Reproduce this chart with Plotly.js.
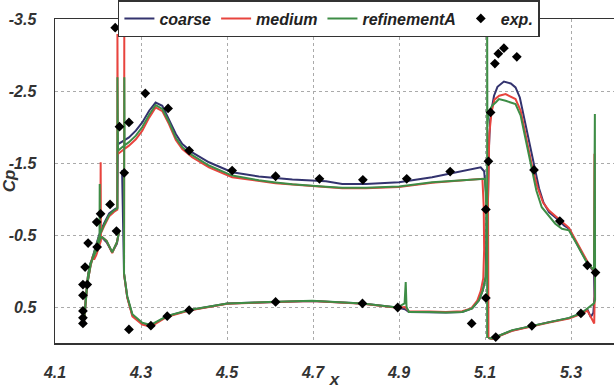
<!DOCTYPE html>
<html>
<head>
<meta charset="utf-8">
<script src="https://cdn.plot.ly/plotly-3.0.1.min.js"></script>
<style>html,body{margin:0;padding:0;background:#fff;}#chart{width:614px;height:389px;}</style>
</head>
<body>
<div id="chart"></div>
<script>
// ---- data (x position, pressure coefficient Cp) ----
const coarseX = [
  4.249, 4.244, 4.233, 4.220, 4.210, 4.203, 4.196, 4.190, 4.186, 4.182, 4.177, 4.172, 4.168, 4.167, 4.168, 4.171, 4.175, 4.183, 4.195, 4.202, 4.214, 4.226, 4.237, 4.245,
  4.246, 4.256, 4.272, 4.288, 4.303, 4.319, 4.334, 4.3495, 4.365, 4.381, 4.396, 4.419, 4.458, 4.512, 4.574, 4.652, 4.730, 4.768, 4.823, 4.900, 4.977, 5.055, 5.090, 5.098,
  5.104, 5.1035, 5.103, 5.1016, 5.095, 5.086, 5.070, 5.047, 5.009, 4.970, 4.923, 4.914, 4.896, 4.815, 4.698, 4.613, 4.5007, 4.4116, 4.361, 4.3226, 4.303, 4.280, 4.268, 4.2605, 4.258, 4.256,
  null,
  5.107, 5.107, 5.109, 5.112, 5.117, 5.121, 5.129, 5.144, 5.160, 5.171, 5.181, 5.191, 5.2023, 5.214, 5.2256, 5.236, 5.2488, 5.272, 5.2837, 5.2953, 5.307, 5.3263, 5.3419, 5.3535, 5.3545, 5.352, 5.346, 5.338, 5.323, 5.2953, 5.249, 5.210, 5.1636, 5.1256, 5.117, 5.108
];
const coarseCp = [
  -0.55, -0.38, -0.26, -0.40, -0.46, -0.44, -0.30, -0.20, -0.16, -0.10, 0.05, 0.35, 0.60, 0.75, 0.62, 0.41, 0.18, -0.10, -0.33, -0.49, -0.66, -0.80, -0.85, -0.88,
  -1.76, -1.80, -1.856, -1.949, -2.064, -2.226, -2.34, -2.295, -2.11, -1.903, -1.764, -1.648, -1.51, -1.371, -1.312, -1.27, -1.247, -1.21, -1.21, -1.233, -1.302, -1.395, -1.44, -1.385,
  -0.98, -0.56, -0.19, 0.083, 0.267, 0.406, 0.521, 0.568, 0.576, 0.568, 0.568, 0.53, 0.507, 0.452, 0.415, 0.429, 0.452, 0.544, 0.627, 0.759, 0.729, 0.614, 0.36, 0.036, -0.6, -1.4,
  null,
  0.93, -1.0, -1.7, -2.1, -2.30, -2.434, -2.558, -2.632, -2.604, -2.549, -2.41, -2.133, -1.81, -1.487, -1.15, -0.95, -0.817, -0.702, -0.633, -0.587, -0.449, -0.241, -0.079, 0.014, 0.35, 0.58, 0.64, 0.53, 0.59, 0.655, 0.71, 0.765, 0.825, 0.916, 0.94, 0.93
];

const mediumX = [
  4.249, 4.244, 4.233, 4.220, 4.210, 4.2055, 4.2062, 4.2068, 4.196, 4.191, 4.1875, 4.185, 4.182, 4.177, 4.172, 4.168, 4.167, 4.168, 4.171, 4.175, 4.183, 4.195, 4.202, 4.214, 4.226, 4.237, 4.2449,
  4.2452, 4.2462, 4.256, 4.272, 4.288, 4.303, 4.319, 4.334, 4.3495, 4.365, 4.381, 4.396, 4.419, 4.458, 4.512, 4.574, 4.613, 4.652, 4.730, 4.768, 4.823, 4.900, 4.977, 5.055, 5.094,
  5.097, 5.098, 5.096, 5.090, 5.082, 5.068, 5.047, 5.009, 4.970, 4.923, 4.914, 4.896, 4.815, 4.698, 4.613, 4.5007, 4.4116, 4.361, 4.3226, 4.303, 4.280, 4.268, 4.2605, 4.2612,
  null,
  5.108, 5.107, 5.110, 5.115, 5.122, 5.133, 5.148, 5.171, 5.183, 5.1985, 5.210, 5.222, 5.235, 5.249, 5.272, 5.2953, 5.307, 5.3263, 5.3419, 5.3535, 5.3545, 5.3555, 5.354, 5.348, 5.338, 5.323, 5.2953, 5.249, 5.210, 5.1636, 5.1256, 5.117, 5.108
];
const mediumCp = [
  -0.55, -0.40, -0.25, -0.42, -0.47, -0.45, -1.51, -0.42, -0.22, -0.16, -0.20, -0.13, -0.08, 0.05, 0.35, 0.60, 0.75, 0.62, 0.41, 0.18, -0.08, -0.30, -0.46, -0.62, -0.76, -0.82, -0.85,
  -3.29, -1.626, -1.67, -1.741, -1.83, -1.949, -2.13, -2.272, -2.22, -2.04, -1.82, -1.695, -1.58, -1.44, -1.302, -1.25, -1.219, -1.20, -1.164, -1.15, -1.15, -1.165, -1.225, -1.26, -1.28,
  -0.9, -0.3, 0.1, 0.28, 0.41, 0.52, 0.56, 0.568, 0.562, 0.56, 0.50, 0.51, 0.455, 0.418, 0.432, 0.455, 0.548, 0.635, 0.775, 0.745, 0.63, 0.37, 0.04, -3.6,
  null,
  0.93, -1.0, -1.9, -2.2, -2.38, -2.434, -2.457, -2.388, -2.226, -1.764, -1.44, -1.163, -0.95, -0.84, -0.72, -0.60, -0.47, -0.26, -0.09, 0.0, -1.63, 0.2, 0.73, 0.66, 0.55, 0.60, 0.66, 0.715, 0.77, 0.83, 0.92, 0.945, 0.93
];

const refX = [
  4.249, 4.244, 4.233, 4.220, 4.210, 4.2035, 4.204, 4.2045, 4.196, 4.190, 4.186, 4.182, 4.177, 4.172, 4.168, 4.167, 4.168, 4.171, 4.175, 4.183, 4.195, 4.202, 4.214, 4.226, 4.237, 4.245,
  4.2452, 4.2465, 4.256, 4.272, 4.288, 4.303, 4.319, 4.334, 4.3495, 4.365, 4.381, 4.396, 4.419, 4.458, 4.512, 4.574, 4.613, 4.652, 4.730, 4.768, 4.823, 4.900, 4.977, 5.055, 5.094, 5.100,
  5.103, 5.1035, 5.103, 5.1016, 5.095, 5.086, 5.070, 5.047, 5.009, 4.970, 4.923, 4.9175, 4.9156, 4.913, 4.896, 4.815, 4.698, 4.613, 4.5007, 4.4116, 4.361, 4.3226, 4.303, 4.280, 4.268, 4.2605, 4.2612, 4.262,
  null,
  5.105, 5.105, 5.1055, 5.108, 5.117, 5.1248, 5.1325, 5.148, 5.171, 5.183, 5.1965, 5.210, 5.2194, 5.232, 5.2634, 5.279, 5.2953, 5.3108, 5.334, 5.3535, 5.3555, 5.356, 5.3535, 5.338, 5.323, 5.2953, 5.249, 5.210, 5.1636, 5.1256, 5.117, 5.108
];
const refCp = [
  -0.55, -0.40, -0.26, -0.42, -0.47, -0.45, -1.21, -0.44, -0.28, -0.19, -0.15, -0.10, 0.05, 0.35, 0.60, 0.75, 0.62, 0.41, 0.18, -0.09, -0.31, -0.47, -0.64, -0.78, -0.84, -0.87,
  -2.69, -1.67, -1.72, -1.79, -1.88, -2.00, -2.17, -2.305, -2.25, -2.07, -1.85, -1.72, -1.61, -1.465, -1.325, -1.26, -1.23, -1.205, -1.17, -1.155, -1.155, -1.173, -1.233, -1.266, -1.28, -1.28,
  -0.9, -0.56, -0.19, 0.083, 0.267, 0.406, 0.521, 0.568, 0.576, 0.568, 0.568, 0.50, 0.152, 0.45, 0.507, 0.45, 0.413, 0.427, 0.45, 0.542, 0.625, 0.75, 0.72, 0.60, 0.35, 0.03, -2.69, -1.72,
  null,
  0.93, -3.6, -2.0, -2.2, -2.30, -2.341, -2.388, -2.364, -2.318, -2.157, -1.764, -1.395, -1.118, -0.886, -0.657, -0.587, -0.564, -0.402, -0.148, -0.01, -2.18, 0.40, 0.45, 0.521, 0.59, 0.651, 0.706, 0.762, 0.821, 0.914, 0.937, 0.93
];

const expX = [4.165,4.165,4.165,4.165,4.165,4.175,4.170,4.177,4.198,4.197,4.206,4.228,4.243,4.261,4.240,4.250,4.272,4.272,4.323,4.310,4.363,4.361,4.412,4.412,4.512,4.613,4.613,4.715,4.816,4.815,4.918,4.897,5.019,5.108,5.102,5.069,5.102,5.125,5.113,5.123,5.131,5.144,5.174,5.214,5.209,5.274,5.338,5.357,5.323];
const expCp = [0.729,0.651,0.554,0.337,0.188,0.188,-0.055,-0.388,-0.332,-0.679,-0.795,-0.924,-0.554,-1.363,-3.38,-2.004,-2.064,0.812,0.759,-2.468,-2.258,0.627,0.544,-1.672,-1.395,-1.316,0.429,-1.28,-1.266,0.451,-1.28,0.507,-1.381,-1.524,-0.855,0.729,0.374,0.918,-2.202,-2.881,-3.019,-3.094,-2.974,-1.404,0.762,-0.693,-0.079,0.022,0.59];

const seriesNames = ['coarse', 'medium', 'refinementA', 'exp.'];
const xTickVals = [4.1, 4.3, 4.5, 4.7, 4.9, 5.1, 5.3];
const xTickText = ['4.1', '4.3', '4.5', '4.7', '4.9', '5.1', '5.3'];
const yTickVals = [-3.5, -2.5, -1.5, -0.5, 0.5];
const yTickText = ['-3.5', '-2.5', '-1.5', '-0.5', '0.5'];

const fontFam = '"Liberation Sans", Arial, sans-serif';
const tickFont = {family: fontFam, size: 16, color: '#333333', weight: 'bold', style: 'italic'};

const traces = [
  {x: coarseX, y: coarseCp, name: seriesNames[0], mode: 'lines', line: {color: '#33336e', width: 2}},
  {x: mediumX, y: mediumCp, name: seriesNames[1], mode: 'lines', line: {color: '#e8443e', width: 2}},
  {x: refX, y: refCp, name: seriesNames[2], mode: 'lines', line: {color: '#3e8d46', width: 2}},
  {x: expX, y: expCp, name: seriesNames[3], mode: 'markers', marker: {symbol: 'diamond', size: 7.5, color: '#000000'}}
];

const layout = {
  width: 614, height: 389,
  margin: {l: 55, r: 0, t: 18, b: 46},
  paper_bgcolor: '#ffffff', plot_bgcolor: '#ffffff',
  showlegend: true,
  legend: {
    orientation: 'h', x: 0.49, xanchor: 'center', y: 1, yanchor: 'middle',
    bgcolor: '#ffffff', bordercolor: '#333333', borderwidth: 1.5,
    font: {family: fontFam, size: 16, color: '#222222', weight: 'bold', style: 'italic'},
    itemwidth: 30, tracegroupgap: 0
  },
  xaxis: {
    range: [4.1, 5.4], tickvals: xTickVals, ticktext: xTickText,
    showgrid: true, gridcolor: '#aaaaaa', griddash: 'dot', gridwidth: 1,
    showline: true, linecolor: '#333333', linewidth: 1.5, mirror: true,
    zeroline: false, ticks: '', ticklabelstandoff: 14,
    tickfont: tickFont,
    title: {text: 'x', font: {family: fontFam, size: 17, color: '#333333', weight: 'bold', style: 'italic'}, standoff: 2}
  },
  yaxis: {
    range: [1.0, -3.5], tickvals: yTickVals, ticktext: yTickText,
    showgrid: true, gridcolor: '#aaaaaa', griddash: 'dot', gridwidth: 1,
    showline: true, linecolor: '#333333', linewidth: 1.5, mirror: false,
    zeroline: false, ticks: '', ticklabelstandoff: 14,
    tickfont: tickFont,
    title: {text: 'Cp', font: {family: fontFam, size: 17, color: '#333333', weight: 'bold', style: 'italic'}, standoff: 4}
  }
};

Plotly.newPlot('chart', traces, layout, {displayModeBar: false, staticPlot: true});
</script>
</body>
</html>
